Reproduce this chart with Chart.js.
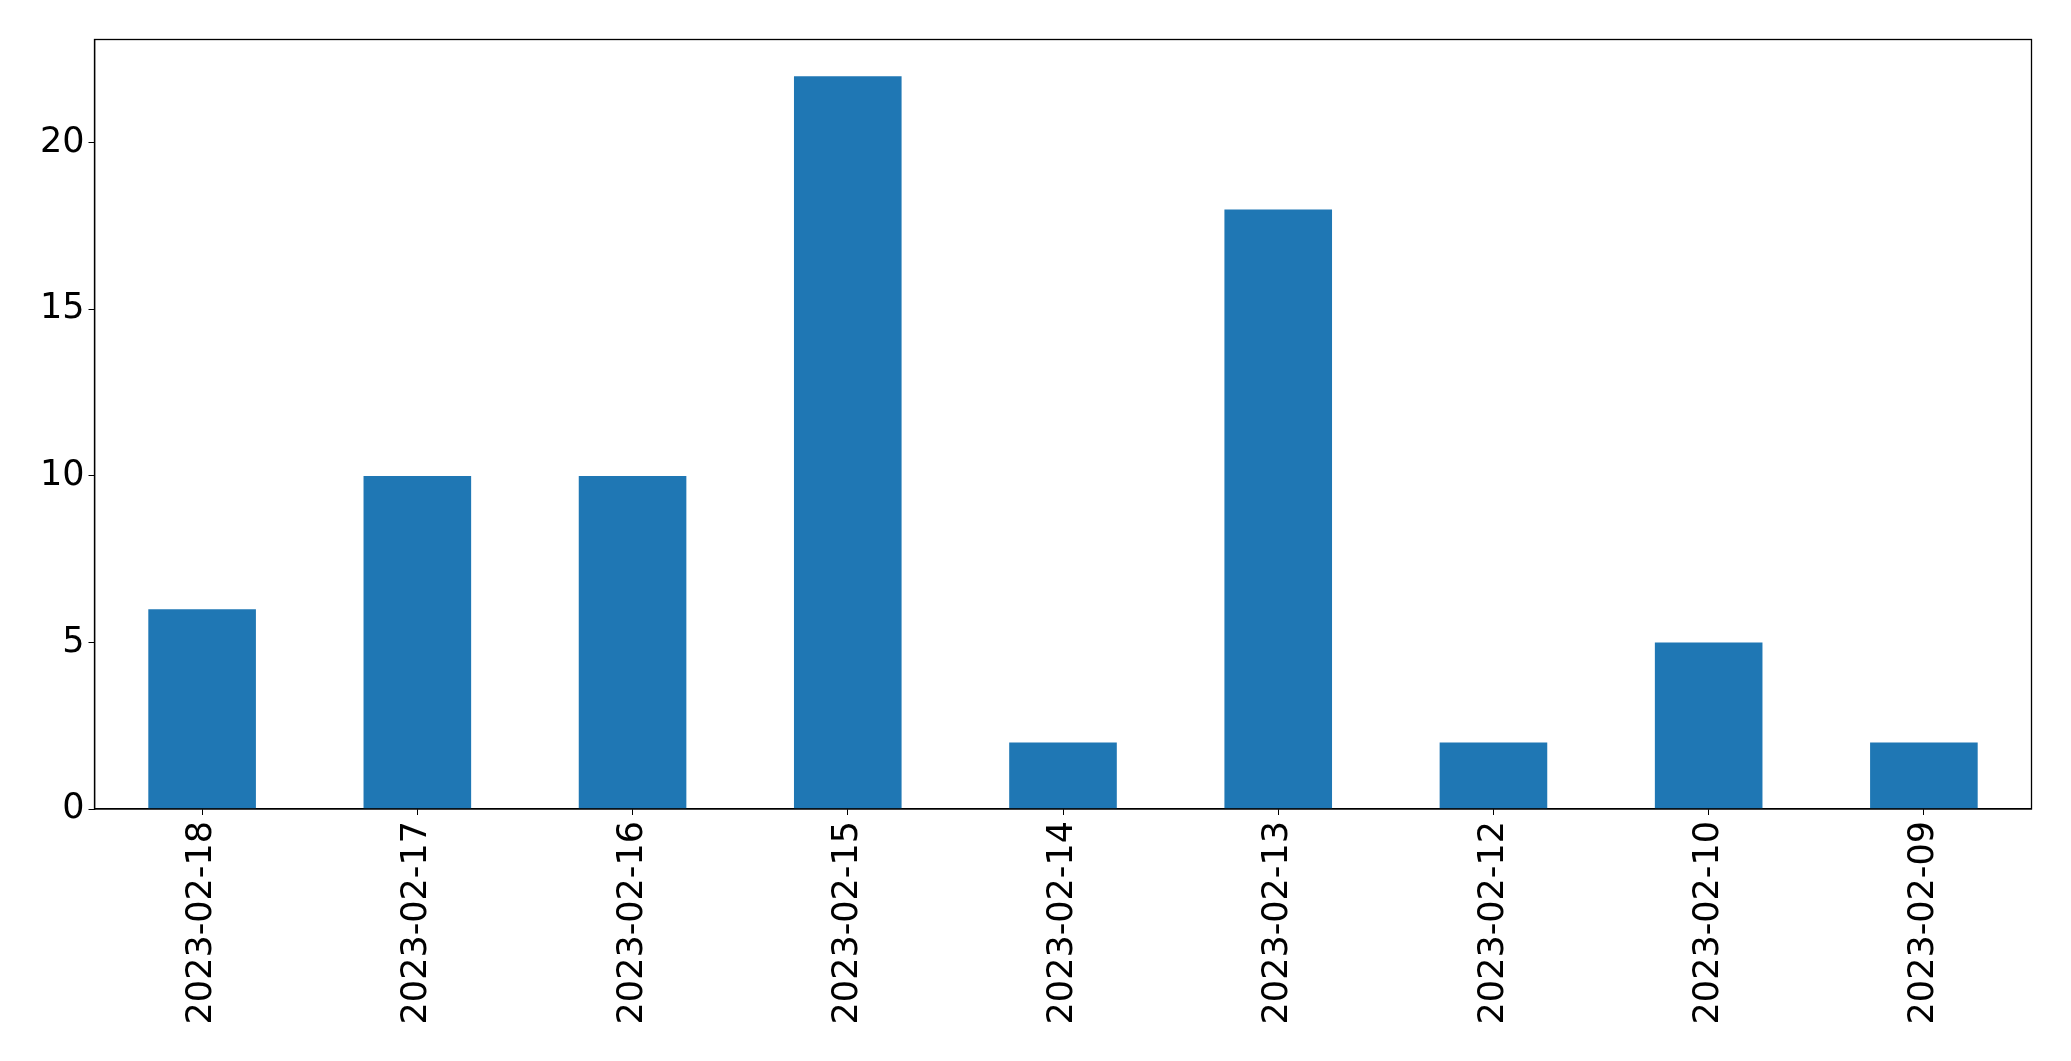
<!DOCTYPE html>
<html>
<head>
<meta charset="utf-8">
<script src="https://cdn.jsdelivr.net/npm/chart.js@4/dist/chart.umd.min.js"></script>
<style>
  html, body { margin: 0; padding: 0; background: #fff; }
  #wrap { width: 2071px; height: 1061px; }
</style>
</head>
<body>
<div id="wrap"><canvas id="barChart"></canvas></div>
<script>
const dates = ['2023-02-18', '2023-02-17', '2023-02-16', '2023-02-15', '2023-02-14', '2023-02-13', '2023-02-12', '2023-02-10', '2023-02-09'];
const counts = [6, 10, 10, 22, 2, 18, 2, 5, 2];
const yTicks = [0, 5, 10, 15, 20];

// frame around the plot (top + right sides, axes give the rest)
const frame = {
  id: 'frame',
  afterDraw(chart) {
    const a = chart.chartArea, c = chart.ctx;
    c.save();
    c.strokeStyle = '#000';
    c.lineWidth = 1.3;
    c.strokeRect(a.left, a.top, a.right - a.left, a.bottom - a.top);
    c.restore();
  }
};

document.addEventListener("DOMContentLoaded", function () {
  const ctx = document.getElementById('barChart').getContext('2d');
  new Chart(ctx, {
    type: 'bar',
    data: {
      labels: dates,
      datasets: [{
        data: counts,
        backgroundColor: '#1f77b4',
        borderWidth: 0,
        categoryPercentage: 1.0,
        barPercentage: 0.5
      }]
    },
    options: {
      responsive: true,
      maintainAspectRatio: false,
      animation: false,
      layout: { padding: { top: 39.5, right: 39.5, left: 0, bottom: 0 } },
      plugins: { legend: { display: false }, tooltip: { enabled: false } },
      scales: {
        x: {
          offset: true,
          grid: { drawOnChartArea: false, drawTicks: true, tickLength: 6, color: '#000', offset: false },
          border: { display: true, color: '#000', width: 1.3 },
          ticks: {
            color: '#000',
            font: { family: 'DejaVu Sans', size: 35 },
            minRotation: 90,
            maxRotation: 90,
            autoSkip: false,
            padding: 6
          },
          afterFit(scale) { scale.height = 252; }
        },
        y: {
          min: 0,
          max: 23.1,
          grid: { drawOnChartArea: false, drawTicks: true, tickLength: 6, color: '#000' },
          border: { display: true, color: '#000', width: 1.3 },
          ticks: {
            color: '#000',
            font: { family: 'DejaVu Sans', size: 35 },
            padding: 4
          },
          afterBuildTicks(scale) { scale.ticks = yTicks.map(v => ({ value: v })); },
          afterFit(scale) { scale.width = 94.5; }
        }
      }
    },
    plugins: [frame]
  });
});
</script>
</body>
</html>
